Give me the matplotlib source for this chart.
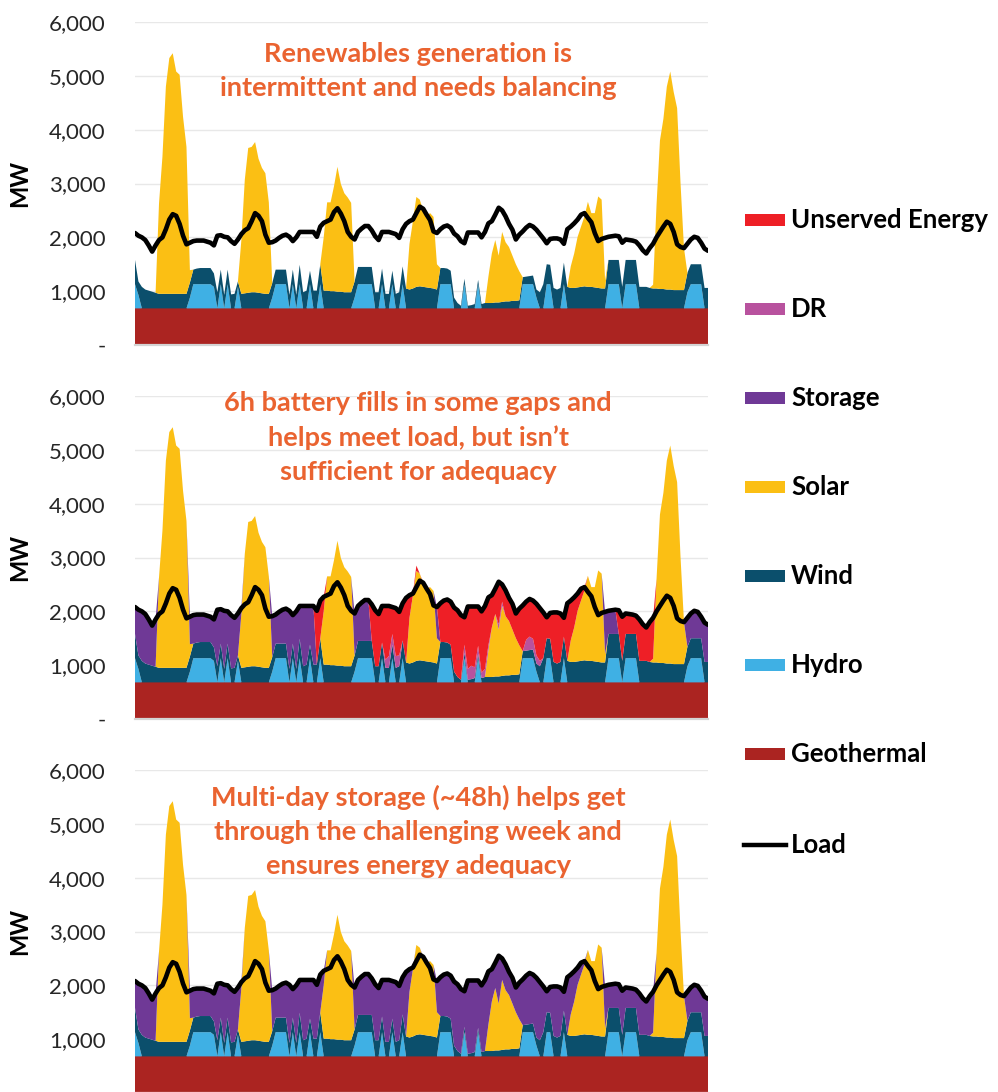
import numpy as np
import matplotlib.pyplot as plt
from matplotlib.patches import Rectangle
from matplotlib.lines import Line2D

plt.rcParams['font.family'] = ['Lato', 'DejaVu Sans']

# one week, hourly (MW)
hours = np.arange(168)

load = [
    2080, 2030, 2000, 1950, 1850, 1735, 1850, 1950, 2000, 2150, 2330, 2430, 2400, 2250, 2030, 1870, 1900, 1930, 1940, 1940, 1940, 1920, 1900, 1850,
    2030, 2040, 2010, 2000, 1930, 1880, 1960, 2060, 2130, 2170, 2300, 2450, 2400, 2300, 2050, 1900, 1910, 1940, 1990, 2030, 2050, 2010, 1930, 2000,
    2100, 2100, 2100, 2100, 2100, 2010, 2200, 2270, 2300, 2330, 2470, 2540, 2440, 2300, 2100, 2010, 1960, 2100, 2160, 2210, 2210, 2130, 2020, 1950,
    2100, 2100, 2100, 2080, 2060, 1990, 2150, 2250, 2300, 2330, 2450, 2570, 2530, 2420, 2320, 2110, 2080, 2150, 2200, 2220, 2180, 2070, 2020, 1930,
    1890, 2090, 2090, 2090, 2090, 2000, 2100, 2260, 2300, 2420, 2550, 2500, 2390, 2250, 2140, 1960, 2050, 2110, 2180, 2230, 2200, 2140, 2060, 1980,
    1890, 1970, 1980, 1980, 1960, 1880, 2150, 2200, 2260, 2330, 2420, 2450, 2360, 2280, 2080, 1930, 1970, 1990, 2010, 2020, 2030, 2020, 1900, 1960,
    1950, 1940, 1920, 1850, 1760, 1700, 1800, 1880, 2000, 2100, 2200, 2290, 2250, 2100, 1870, 1820, 1800, 1880, 1960, 2010, 1990, 1900, 1790, 1750,
]

geothermal = [680] * 168

hydro = [
    450, 250, 0, 0, 0, 0, 0, 0, 0, 0, 0, 0, 0, 0, 0, 0, 200, 450, 450, 450, 450, 450, 450, 400,
    0, 450, 0, 450, 0, 0, 400, 0, 0, 0, 0, 0, 0, 0, 0, 0, 200, 450, 450, 450, 450, 0, 450, 0,
    450, 0, 0, 450, 0, 0, 450, 0, 0, 0, 0, 0, 0, 0, 0, 0, 200, 450, 450, 450, 450, 450, 0, 0,
    450, 0, 0, 450, 0, 0, 450, 0, 0, 0, 0, 0, 0, 0, 0, 0, 0, 450, 450, 450, 450, 0, 0, 0,
    450, 0, 0, 0, 450, 0, 0, 0, 0, 0, 0, 0, 0, 0, 0, 0, 0, 450, 450, 450, 450, 200, 0, 0,
    450, 450, 0, 0, 0, 450, 0, 0, 0, 0, 0, 0, 0, 0, 0, 0, 0, 0, 450, 450, 450, 450, 0, 450,
    450, 450, 450, 0, 0, 0, 0, 0, 0, 0, 0, 0, 0, 0, 0, 0, 0, 300, 450, 450, 450, 450, 0, 0,
]

wind = [
    450, 250, 400, 350, 330, 310, 290, 270, 270, 270, 270, 270, 270, 270, 270, 270, 280, 270, 290, 300, 300, 300, 300, 250,
    300, 270, 250, 270, 260, 270, 100, 270, 280, 290, 300, 300, 290, 280, 270, 270, 270, 270, 270, 270, 270, 250, 270, 250,
    360, 300, 330, 250, 330, 330, 370, 330, 330, 320, 320, 310, 310, 300, 300, 300, 300, 320, 320, 320, 320, 320, 300, 300,
    290, 270, 270, 250, 270, 300, 330, 370, 350, 370, 400, 410, 400, 390, 380, 370, 350, 300, 300, 290, 250, 200, 100, 50,
    100, 50, 60, 80, 80, 80, 100, 100, 100, 110, 110, 120, 130, 130, 140, 140, 150, 130, 140, 150, 160, 150, 300, 450,
    370, 360, 380, 350, 380, 400, 400, 380, 380, 390, 400, 410, 400, 400, 390, 380, 370, 370, 450, 450, 450, 450, 400, 450,
    450, 450, 450, 400, 400, 400, 380, 370, 370, 360, 360, 350, 350, 340, 340, 340, 340, 360, 370, 370, 370, 370, 380, 380,
]

solar = [
    0, 0, 0, 0, 0, 0, 0, 1680, 2550, 3850, 4380, 4470, 4130, 4070, 3290, 2730, 230, 0, 0, 0, 0, 0, 0, 0,
    0, 0, 0, 0, 0, 0, 0, 1000, 2110, 2690, 2700, 2790, 2490, 2330, 2240, 1700, 0, 0, 0, 0, 0, 0, 0, 0,
    0, 0, 0, 0, 0, 0, 0, 990, 1640, 1650, 1950, 2320, 2000, 1840, 1760, 1660, 0, 0, 0, 0, 0, 0, 0, 0,
    0, 0, 0, 0, 0, 0, 0, 0, 850, 1250, 1670, 1610, 1420, 1330, 1390, 1330, 470, 0, 0, 0, 0, 0, 0, 0,
    0, 0, 0, 0, 0, 0, 0, 490, 920, 1160, 870, 1300, 1100, 1010, 840, 680, 540, 0, 0, 0, 0, 0, 0, 0,
    0, 0, 0, 0, 0, 0, 0, 400, 640, 940, 1120, 1300, 1580, 1370, 1380, 1700, 1650, 150, 0, 0, 0, 0, 0, 0,
    0, 0, 0, 0, 0, 0, 0, 70, 1550, 2760, 3160, 3770, 4050, 3680, 3380, 1980, 780, 0, 0, 0, 0, 0, 0, 0,
]

# 6h battery case
storage_6h = [
    500, 850, 920, 920, 840, 750, 880, 0, 0, 0, 0, 0, 0, 0, 0, 0, 510, 530, 520, 510, 510, 490, 470, 520,
    1050, 640, 1080, 600, 990, 930, 780, 110, 0, 0, 0, 0, 0, 0, 0, 0, 760, 540, 590, 630, 650, 1080, 530, 1070,
    610, 1120, 1090, 720, 1090, 0, 0, 0, 0, 0, 0, 0, 0, 0, 0, 0, 780, 650, 710, 760, 760, 0, 0, 0,
    0, 0, 0, 0, 0, 0, 0, 0, 0, 0, 0, 0, 0, 0, 0, 0, 580, 0, 0, 0, 0, 0, 0, 0,
    0, 0, 0, 0, 0, 0, 0, 0, 0, 0, 0, 0, 0, 0, 0, 0, 0, 0, 0, 0, 0, 0, 0, 0,
    0, 0, 0, 0, 0, 0, 0, 0, 0, 0, 0, 0, 0, 0, 0, 0, 0, 790, 430, 440, 450, 0, 0, 0,
    0, 0, 0, 0, 0, 0, 0, 0, 0, 0, 0, 0, 0, 0, 0, 0, 0, 540, 460, 510, 490, 400, 730, 690,
]

dr_6h = [
    0] * 72 + [
    0, 150, 220, 200, 220, 200, 0, 0, 0, 0, 0, 0, 0, 0, 0, 0, 0, 0, 0, 0, 0, 0, 0, 0,
    150, 200, 250, 200, 150, 100, 150, 100, 0, 0, 100, 80, 0, 0, 0, 0, 0, 0, 200, 250, 200, 150, 100, 0,
] + [0] * 48

unserved_6h = [0] * 48 + [
    0, 0, 0, 0, 0, 1000, 700, 270, 0, 0, 0, 0, 0, 0, 0, 0, 0, 0, 0, 0, 0, 680, 1040, 970,
    680, 1000, 930, 500, 890, 810, 690, 1200, 420, 30, 100, 0, 30, 20, 0, 0, 0, 720, 770, 800, 800, 1190, 1240, 1200,
    510, 1160, 1100, 1130, 730, 1140, 1170, 890, 600, 470, 790, 320, 480, 430, 480, 460, 680, 850, 710, 700, 710, 960, 980, 850,
    390, 480, 920, 950, 900, 350, 1070, 740, 560, 320, 220, 60, 0, 0, 0, 0, 0, 0, 0, 0, 0, 440, 820, 380,
    370, 360, 340, 770, 680, 620, 740, 760, 0, 0, 0, 0, 0, 0, 0, 0, 0, 0, 0, 0, 0, 0, 0, 0,
]

# multi-day (~48h) storage case
storage_48h = [
    500, 850, 920, 920, 840, 750, 880, 0, 0, 0, 0, 0, 0, 0, 0, 0, 510, 530, 520, 510, 510, 490, 470, 520,
    1050, 640, 1080, 600, 990, 930, 780, 110, 0, 0, 0, 0, 0, 0, 0, 0, 760, 540, 590, 630, 650, 1080, 530, 1070,
    610, 1120, 1090, 720, 1090, 1000, 700, 270, 0, 0, 0, 0, 0, 0, 0, 0, 780, 650, 710, 760, 760, 680, 1040, 970,
    680, 1150, 1150, 700, 1110, 1010, 690, 1200, 420, 30, 0, 0, 30, 20, 0, 0, 580, 720, 770, 800, 800, 1190, 1240, 1200,
    660, 1360, 1350, 1330, 880, 1240, 1320, 990, 600, 470, 890, 400, 480, 430, 480, 460, 680, 850, 910, 950, 910, 1110, 1080, 850,
    390, 480, 920, 950, 900, 350, 1070, 740, 560, 320, 220, 60, 0, 0, 0, 0, 0, 790, 430, 440, 450, 440, 820, 380,
    370, 360, 340, 770, 680, 620, 740, 760, 0, 0, 0, 0, 0, 0, 0, 0, 0, 540, 460, 510, 490, 400, 730, 690,
]
zeros = [0] * 168

notes = [
    "Renewables generation is\nintermittent and needs balancing",
    "6h battery fills in some gaps and\nhelps meet load, but isn\u2019t\nsufficient for adequacy",
    "Multi-day storage (~48h) helps get\nthrough the challenging week and\nensures energy adequacy",
]

colors = {
    'Geothermal': '#AB2421',
    'Hydro': '#3FB0E4',
    'Wind': '#0B4F6C',
    'Solar': '#FBBF14',
    'Storage': '#6F3996',
    'DR': '#B8529E',
    'Unserved Energy': '#EE1F26',
}
order = ['Geothermal', 'Hydro', 'Wind', 'Solar', 'Storage', 'DR', 'Unserved Energy']
note_color = '#EA6330'

W, H = 998, 1092
fig = plt.figure(figsize=(W / 100, H / 100), dpi=100)

panels = [
    (345, [geothermal, hydro, wind, solar, zeros, zeros, zeros], notes[0], 0.848, True),
    (719, [geothermal, hydro, wind, solar, storage_6h, dr_6h, unserved_6h], notes[1], 0.871, True),
    (1093, [geothermal, hydro, wind, solar, storage_48h, zeros, zeros], notes[2], 0.811, False),
]

for base_px, layers, note, note_y, show_zero in panels:
    ax = fig.add_axes([135 / W, (H - base_px) / H, 573 / W, 323 / H])
    ax.stackplot(hours, *layers, colors=[colors[k] for k in order], linewidth=0)
    ax.plot(hours, load, color='black', lw=3.3, solid_joinstyle='round', solid_capstyle='round')
    ax.set_xlim(0, 167)
    ax.set_ylim(0, 6000)
    if show_zero:
        ax.set_yticks(range(0, 6001, 1000))
        ax.set_yticklabels(['-'] + ['{:,}'.format(v) for v in range(1000, 6001, 1000)])
    else:
        ax.set_yticks(range(1000, 6001, 1000))
        ax.set_yticklabels(['{:,}'.format(v) for v in range(1000, 6001, 1000)])
    ax.tick_params(axis='y', length=0, pad=21, labelsize=16, labelcolor='#262626')
    ax.set_xticks([])
    ax.grid(axis='y', color='#E8E8E8', lw=1)
    ax.set_axisbelow(True)
    for s in ['left', 'right', 'top']:
        ax.spines[s].set_visible(False)
    ax.spines['bottom'].set_color('#D4D4D4')
    ax.spines['bottom'].set_linewidth(1.6)
    ax.text(0.494, note_y, note, transform=ax.transAxes, ha='center', va='center',
            fontsize=19.5, fontweight='bold', color=note_color, linespacing=1.5, zorder=5)
    fig.text(20 / W, (H - base_px + 161.5) / H, 'MW', rotation=90, ha='center', va='center',
             fontsize=17, fontweight='bold', color='black')

# legend, drawn by hand on the right
legend_items = ['Unserved Energy', 'DR', 'Storage', 'Solar', 'Wind', 'Hydro', 'Geothermal']
legend_y = [220, 309, 398, 487, 576, 665, 754]
for name, y in zip(legend_items, legend_y):
    fig.add_artist(Rectangle((745 / W, (H - y - 6) / H), 40 / W, 12 / H,
                             transform=fig.transFigure, color=colors[name], lw=0))
    fig.text(791 / W, (H - y) / H, name, ha='left', va='center',
             fontsize=18.5, fontweight='bold', color='black')
fig.add_artist(Line2D([744 / W, 786 / W], [(H - 845) / H] * 2, transform=fig.transFigure,
                      color='black', lw=3.2))
fig.text(791 / W, (H - 845) / H, 'Load', ha='left', va='center',
         fontsize=18.5, fontweight='bold', color='black')

fig.savefig('out.png', dpi=100)
